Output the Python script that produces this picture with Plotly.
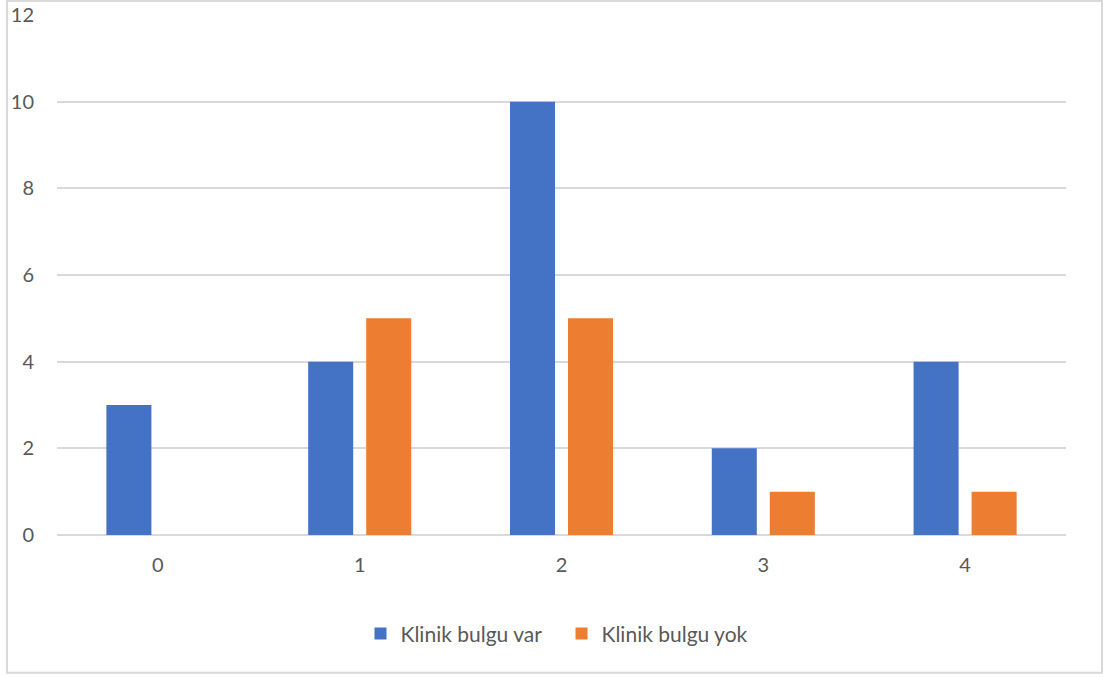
import plotly.graph_objects as go

categories = ["0", "1", "2", "3", "4"]
var_values = [3, 4, 10, 2, 4]
yok_values = [0, 5, 5, 1, 1]
series_names = ["Klinik bulgu var", "Klinik bulgu yok"]
y_ticks = [0, 2, 4, 6, 8, 10, 12]

FONT = "Lato"
TXT = "#595959"
GRID = "#d9d9d9"

fig = go.Figure()
fig.add_trace(go.Bar(x=categories, y=var_values, name=series_names[0],
                     marker=dict(color="#4472C4", line=dict(width=0))))
fig.add_trace(go.Bar(x=categories, y=yok_values, name=series_names[1],
                     marker=dict(color="#ED7D31", line=dict(width=0))))

fig.update_layout(
    width=1103, height=677,
    margin=dict(l=57, r=37, t=15, b=142, autoexpand=False),
    paper_bgcolor="white", plot_bgcolor="white",
    barmode="group", bargap=0.425, bargroupgap=0.224,
    font=dict(family=FONT, size=20, color=TXT),
    showlegend=True,
    legend=dict(orientation="h", x=0.5, xanchor="center", y=-0.19, yanchor="middle",
                font=dict(family=FONT, size=21, color=TXT), itemwidth=30,
                entrywidth=156, entrywidthmode="pixels",
                traceorder="normal"),
    xaxis=dict(type="category", showgrid=False, showline=False, ticks="", automargin=False,
               ticklabelstandoff=16, tickfont=dict(size=20, color=TXT)),
    yaxis=dict(range=[0, 12], tickvals=y_ticks, showgrid=True, gridcolor=GRID,
               gridwidth=1.5, zeroline=True, zerolinecolor=GRID, zerolinewidth=1.5,
               showline=False, ticks="", ticklabelstandoff=22, automargin=False,
               tickfont=dict(size=20, color=TXT)),
    shapes=[dict(type="rect", xref="paper", yref="paper",
                 x0=-0.0496, x1=1.0357, y0=-0.265, y1=1.027,
                 line=dict(color=GRID, width=2), fillcolor="rgba(0,0,0,0)", layer="below")],
)

fig.write_html("out.html")
